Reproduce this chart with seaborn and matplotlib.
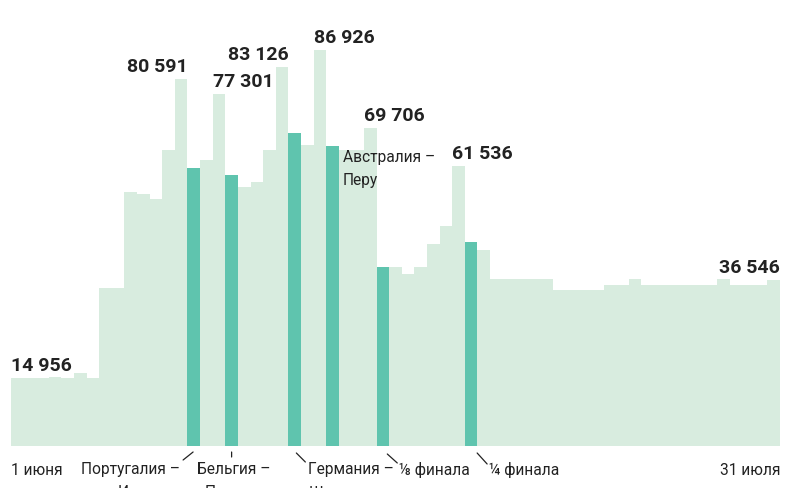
import pandas as pd
import seaborn as sns
import matplotlib.pyplot as plt
from matplotlib.transforms import offset_copy

# daily visitors, 1 June .. 31 July (61 days)
visitors = [
    14956, 14900, 14900, 15150, 14900, 16000, 14900, 34700, 34700, 55750,
    55300, 54200, 65000, 80591, 61000, 62800, 77301, 59500, 56850, 57950,
    65000, 83126, 68700, 66070, 86926, 65850, 65000, 65000, 69706, 39300,
    39300, 37750, 39300, 44340, 48300, 61536, 44800, 43000, 36650, 36650,
    36650, 36650, 36650, 34240, 34240, 34240, 34240, 35340, 35340, 36650,
    35340, 35340, 35340, 35340, 35340, 35340, 36650, 35340, 35340, 35340,
    36546,
]
# days with a highlighted match (0-based)
match_days = [14, 17, 22, 25, 29, 36]
# peaks with a number above them: (day, alignment)
peak_days = [0, 13, 16, 21, 24, 28, 35, 60]
peak_align = ['left', 'right', 'left', 'right', 'left', 'left', 'left', 'right']

# match captions under the axis
event_days = [14, 17, 22, 29, 36]
event_text = ['Португалия –\nИспания', 'Бельгия –\nПанама', 'Германия –\nШвеция',
              '⅛ финала', '¼ финала']
date_first = '1 июня'
date_last = '31 июля'
inside_day = 25
inside_text = 'Австралия –\nПеру'

LIGHT = '#d8ecdf'
DARK = '#5fc4ae'
INK = '#222222'

sns.set_style('white')
plt.rcParams['font.family'] = ['Roboto', 'DejaVu Sans']

df = pd.DataFrame({
    'day': range(len(visitors)),
    'visitors': visitors,
})
df['kind'] = ['match' if d in match_days else 'other' for d in df.day]

fig = plt.figure(figsize=(7.96, 4.88), dpi=100)
ax = fig.add_axes([11 / 796, 42 / 488, 769 / 796, 446 / 488])
sns.barplot(ax=ax, data=df, x='day', y='visitors', hue='kind',
            palette={'match': DARK, 'other': LIGHT}, width=1.0, dodge=False,
            saturation=1, linewidth=0, errorbar=None, legend=False)
ax.set_xlim(-0.5, len(visitors) - 0.5)
ax.set_ylim(0, 446 * 219.5)
ax.axis('off')

# numbers over peaks
for d, ha in zip(peak_days, peak_align):
    x = d - 0.5 if ha == 'left' else d + 0.5
    ax.annotate('{:,}'.format(visitors[d]).replace(',', ' '),
                xy=(x, visitors[d]), xytext=(0, 7), textcoords='offset pixels',
                ha=ha, va='baseline', fontsize=14, fontweight='bold', color=INK)

# captions under the axis, with little leader ticks
tick_start = [(-0.7, -6), (0, -6), (1.7, -7), (4.4, -8), (6, -7)]
tick_end = [(-10.7, -14), (0, -11), (10.7, -16), (14.4, -17), (16, -18)]
text_dx = [-13.7, 1.7, 13.7, 16.4, 18.2]
text_ha = ['right', 'center', 'left', 'left', 'left']
for d, txt, s, e, dx, ha in zip(event_days, event_text, tick_start, tick_end,
                                text_dx, text_ha):
    tr = offset_copy(ax.transData, fig=fig, x=s[0], y=s[1], units='dots')
    ax.annotate('', xy=(d, 0), xycoords=tr,
                xytext=(e[0] - s[0], e[1] - s[1]), textcoords='offset pixels',
                arrowprops=dict(arrowstyle='-', color=INK, lw=0.9,
                                shrinkA=0, shrinkB=0),
                annotation_clip=False)
    ax.annotate(txt, xy=(d, 0), xytext=(dx, -16), textcoords='offset pixels',
                ha=ha, va='top', multialignment=ha, fontsize=11.2,
                linespacing=1.7, color=INK, annotation_clip=False)

ax.annotate(date_first, xy=(-0.5, 0), xytext=(0, -17), textcoords='offset pixels',
            ha='left', va='top', fontsize=11.2, color=INK, annotation_clip=False)
ax.annotate(date_last, xy=(len(visitors) - 0.5, 0), xytext=(0, -17),
            textcoords='offset pixels', ha='right', va='top', fontsize=11.2,
            color=INK, annotation_clip=False)

ax.annotate(inside_text, xy=(inside_day + 0.5, visitors[inside_day]),
            xytext=(4, -4), textcoords='offset pixels', ha='left', va='top',
            fontsize=11.2, linespacing=1.7, color=INK)

fig.savefig('out.png', dpi=100)
